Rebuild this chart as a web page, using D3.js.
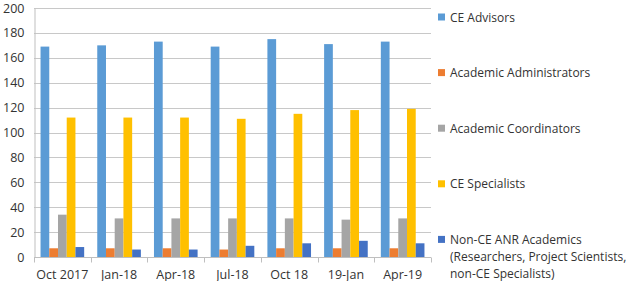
<!DOCTYPE html>
<html>
<head>
<meta charset="utf-8">
<script src="https://cdn.jsdelivr.net/npm/d3@7"></script>
<style>
  body { margin: 0; background: #fff; }
  text { font-family: "Open Sans", sans-serif; fill: #333; }
</style>
</head>
<body>
<div id="chart"></div>
<script>
// quarters on the x axis
const categories = ['Oct 2017', 'Jan-18', 'Apr-18', 'Jul-18', 'Oct 18', '19-Jan', 'Apr-19'];

const seriesNames = [
  'CE Advisors',
  'Academic Administrators',
  'Academic Coordinators',
  'CE Specialists',
  'Non-CE ANR Academics (Researchers, Project Scientists, non-CE Specialists)',
];

const ceAdvisors = [169, 170, 173, 169, 175, 171, 173];
const academicAdmins = [7, 7, 7, 6, 7, 7, 7];
const academicCoords = [34, 31, 31, 31, 31, 30, 31];
const ceSpecialists = [112, 112, 112, 111, 115, 118, 119];
const nonCeAcademics = [8, 6, 6, 9, 11, 13, 11];

const yTicks = [0, 20, 40, 60, 80, 100, 120, 140, 160, 180, 200];

const colors = ['#5B9BD5', '#ED7D31', '#A5A5A5', '#FFC000', '#4472C4'];

const legendLines = [
  ['CE Advisors'],
  ['Academic Administrators'],
  ['Academic Coordinators'],
  ['CE Specialists'],
  ['Non-CE ANR Academics', '(Researchers, Project Scientists,', 'non-CE Specialists)'],
];

function drawChart() {
  const w = 640;
  const h = 281;
  const plot = { left: 34, right: 431, top: 8, bottom: 257 };

  const svg = d3.select('#chart').append('svg').attr('width', w).attr('height', h);

  const series = [ceAdvisors, academicAdmins, academicCoords, ceSpecialists, nonCeAcademics];

  const x0 = d3.scaleBand().domain(categories).range([plot.left, plot.right]).padding(0);
  // gap width ~150% like excel
  const bw = x0.bandwidth();
  const barW = bw / 6.5;
  const x1 = d3.scaleBand()
    .domain(d3.range(series.length))
    .range([barW * 0.75, bw - barW * 0.75])
    .padding(0);

  const y = d3.scaleLinear().domain([0, 200]).range([plot.bottom, plot.top]);

  // gridlines
  svg.append('g')
    .selectAll('line')
    .data(yTicks.filter((d) => d > 0))
    .enter()
    .append('line')
    .attr('x1', plot.left)
    .attr('x2', plot.right)
    .attr('y1', (d) => Math.round(y(d)) + 0.5)
    .attr('y2', (d) => Math.round(y(d)) + 0.5)
    .attr('stroke', '#c8c8c8')
    .attr('stroke-width', 1);

  // y axis
  const yAxis = svg.append('g')
    .attr('transform', `translate(${plot.left + 0.5},0)`)
    .call(d3.axisLeft(y).tickValues(yTicks).tickSize(0).tickPadding(10));
  yAxis.select('.domain').attr('stroke', '#bfbfbf');
  yAxis.selectAll('text').style('font-size', '12.5px').attr('fill', '#333');

  // bars
  const groups = svg.append('g')
    .selectAll('g')
    .data(categories)
    .enter()
    .append('g')
    .attr('transform', (d) => `translate(${x0(d)},0)`);

  groups.selectAll('rect')
    .data((d, i) => series.map((s, k) => ({ k: k, v: s[i] })))
    .enter()
    .append('rect')
    .attr('x', (d) => x1(d.k))
    .attr('width', x1.bandwidth())
    .attr('y', (d) => y(d.v))
    .attr('height', (d) => y(0) - y(d.v))
    .attr('fill', (d) => colors[d.k]);

  // x axis
  const xAxis = svg.append('g').attr('transform', `translate(0,${Math.round(y(0)) + 0.5})`);
  xAxis.append('line')
    .attr('x1', plot.left).attr('x2', plot.right)
    .attr('stroke', '#bfbfbf');
  xAxis.selectAll('line.tick')
    .data(d3.range(categories.length + 1))
    .enter()
    .append('line')
    .attr('class', 'tick')
    .attr('x1', (i) => Math.round(plot.left + i * bw) + 0.5)
    .attr('x2', (i) => Math.round(plot.left + i * bw) + 0.5)
    .attr('y1', 0)
    .attr('y2', 5)
    .attr('stroke', '#bfbfbf');
  xAxis.selectAll('text')
    .data(categories)
    .enter()
    .append('text')
    .attr('x', (d) => x0(d) + bw / 2)
    .attr('y', 21)
    .attr('text-anchor', 'middle')
    .style('font-size', '12.5px')
    .text((d) => d);

  // legend
  const legend = svg.append('g');
  const item = legend.selectAll('g')
    .data(legendLines)
    .enter()
    .append('g')
    .attr('transform', (d, i) => `translate(438,${17 + i * 55.6})`);
  item.append('rect')
    .attr('x', 0).attr('y', -3.5)
    .attr('width', 7).attr('height', 7)
    .attr('fill', (d, i) => colors[i]);
  item.selectAll('text')
    .data((d) => d)
    .enter()
    .append('text')
    .attr('x', 12)
    .attr('y', (d, j) => j * 17 + 4.5)
    .style('font-size', '12px')
    .text((d) => d);
}

window.onload = function () {
  drawChart();
};
</script>
</body>
</html>
